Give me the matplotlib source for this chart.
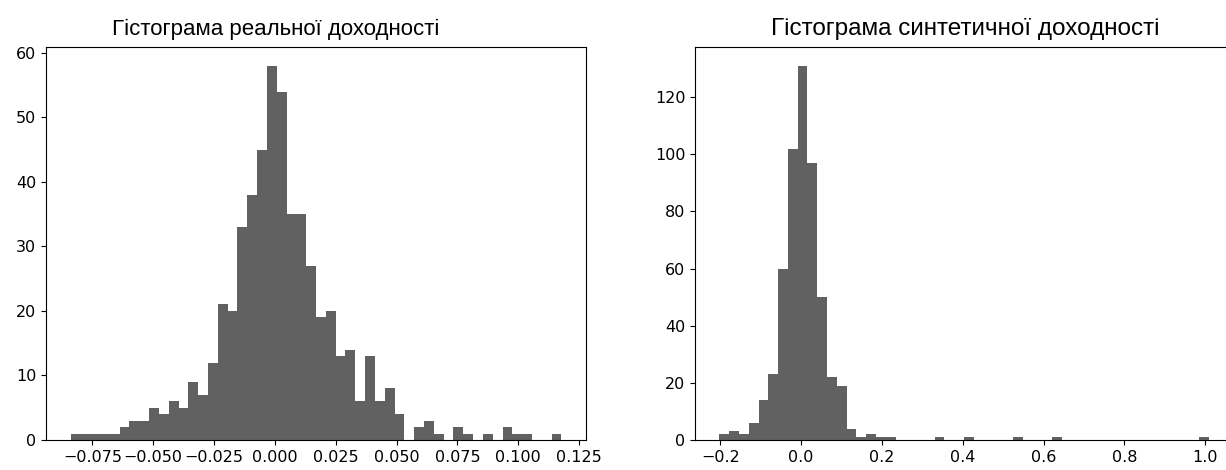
import numpy as np
import matplotlib
matplotlib.use('Agg')
import matplotlib.pyplot as plt

# counts per bin (50 bins each)
real_counts = [1, 1, 1, 1, 1, 2, 3, 3, 5, 4,
               6, 5, 9, 7, 12, 21, 20, 33, 38, 45,
               58, 54, 35, 35, 27, 19, 20, 13, 14, 6,
               13, 6, 8, 4, 0, 2, 3, 1, 0, 2,
               1, 0, 1, 0, 2, 1, 1, 0, 0, 1]
real_range = (-0.0840, 0.1178)

synth_counts = [2, 3, 2, 6, 14, 23, 60, 102, 131, 97,
                50, 22, 19, 4, 1, 2, 1, 1, 0, 0,
                0, 0, 1, 0, 0, 1, 0, 0, 0, 0,
                1, 0, 0, 0, 1, 0, 0, 0, 0, 0,
                0, 0, 0, 0, 0, 0, 0, 0, 0, 1]
synth_range = (-0.2022, 1.008)

titles = ['Гістограма реальної доходності', 'Гістограма синтетичної доходності']

bar_color = '#616161'
title_font = ['Liberation Sans', 'DejaVu Sans']

plt.rc('xtick', labelsize=11.5)
plt.rc('ytick', labelsize=11.5)

fig = plt.figure(figsize=(12.26, 4.70), dpi=100)
ax1 = fig.add_axes([46 / 1226, 30 / 470, 540 / 1226, 393 / 470])
ax2 = fig.add_axes([695 / 1226, 30 / 470, 538 / 1226, 393 / 470])


def draw_hist(ax, counts, rng, title, title_x, title_size):
    edges = np.linspace(rng[0], rng[1], len(counts) + 1)
    ax.hist(edges[:-1], bins=edges, weights=counts, color=bar_color, linewidth=0)
    ax.set_title(title, family=title_font, fontsize=title_size, x=title_x, pad=9)


draw_hist(ax1, real_counts, real_range, titles[0], 0.426, 16)
draw_hist(ax2, synth_counts, synth_range, titles[1], 0.502, 17.5)

ax1.set_xticks([-0.075, -0.050, -0.025, 0.000, 0.025, 0.050, 0.075, 0.100, 0.125])
ax2.set_yticks([0, 20, 40, 60, 80, 100, 120])

fig.savefig('out.png', dpi=100)
